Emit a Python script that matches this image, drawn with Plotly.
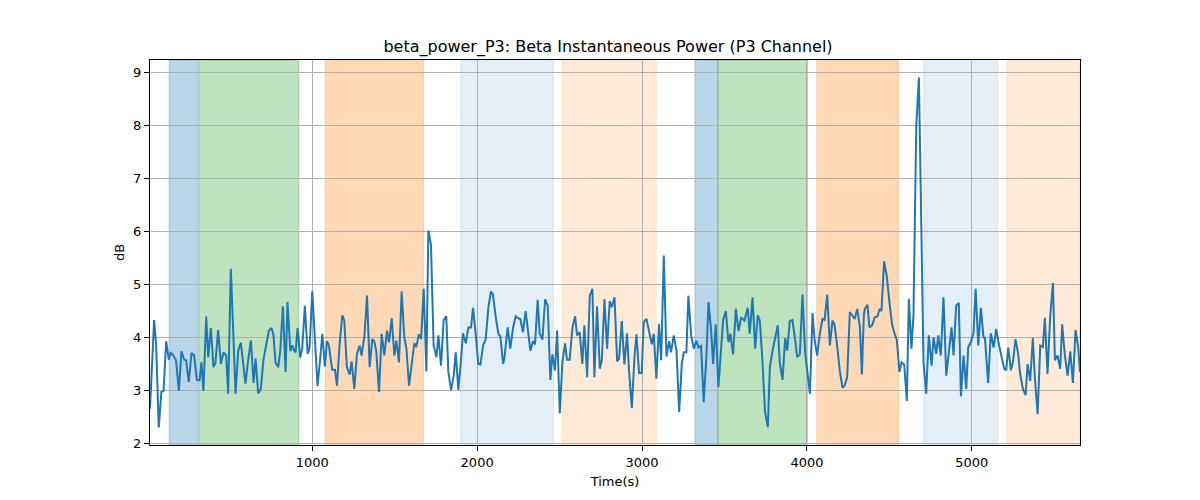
import plotly.graph_objects as go

# Time (s) and beta power (dB)
time_s = [
    16, 41, 53, 69, 85, 98, 114, 130, 142, 158, 174, 191, 207, 223, 235, 251, 268, 284, 300, 316,
    328, 340, 357, 369, 385, 401, 413, 429, 446, 462, 478, 490, 506, 522, 535, 551, 567, 579, 595, 611,
    628, 644, 656, 672, 688, 704, 721, 737, 753, 765, 777, 794, 806, 822, 838, 850, 867, 879, 891, 899,
    911, 927, 939, 955, 972, 984, 1000, 1016, 1032, 1049, 1061, 1077, 1089, 1101, 1121, 1138, 1150, 1166, 1182, 1194,
    1210, 1227, 1239, 1255, 1271, 1287, 1299, 1316, 1332, 1348, 1364, 1376, 1388, 1405, 1421, 1437, 1453, 1465, 1482, 1498,
    1510, 1526, 1542, 1558, 1571, 1587, 1603, 1619, 1631, 1647, 1660, 1676, 1692, 1704, 1720, 1736, 1753, 1765, 1781, 1797,
    1813, 1825, 1842, 1858, 1870, 1886, 1902, 1914, 1931, 1947, 1963, 1975, 1991, 2007, 2020, 2036, 2052, 2068, 2084, 2096,
    2113, 2129, 2141, 2157, 2165, 2185, 2201, 2218, 2234, 2250, 2262, 2278, 2294, 2311, 2323, 2339, 2351, 2367, 2379, 2396,
    2412, 2428, 2444, 2456, 2472, 2485, 2501, 2517, 2533, 2545, 2561, 2578, 2594, 2606, 2622, 2638, 2650, 2667, 2683, 2699,
    2711, 2727, 2744, 2756, 2772, 2788, 2804, 2816, 2833, 2849, 2861, 2877, 2893, 2909, 2921, 2938, 2954, 2966, 2982, 2998,
    3010, 3027, 3043, 3059, 3071, 3087, 3103, 3116, 3132, 3148, 3164, 3176, 3192, 3209, 3225, 3241, 3253, 3269, 3281, 3298,
    3314, 3330, 3342, 3358, 3374, 3391, 3403, 3419, 3431, 3447, 3463, 3480, 3492, 3508, 3524, 3536, 3552, 3569, 3585, 3601,
    3621, 3641, 3653, 3670, 3686, 3702, 3714, 3730, 3746, 3763, 3775, 3791, 3807, 3823, 3835, 3852, 3868, 3880, 3896, 3912,
    3929, 3941, 3957, 3973, 3989, 4001, 4018, 4034, 4046, 4062, 4078, 4094, 4107, 4123, 4139, 4155, 4167, 4183, 4200, 4216,
    4228, 4244, 4260, 4272, 4289, 4305, 4321, 4333, 4345, 4351, 4367, 4379, 4395, 4412, 4428, 4440, 4452, 4468, 4485, 4501,
    4517, 4533, 4545, 4561, 4574, 4590, 4606, 4618, 4634, 4646, 4663, 4679, 4691, 4707, 4723, 4739, 4756, 4768, 4784, 4796,
    4812, 4828, 4845, 4861, 4877, 4889, 4905, 4921, 4934, 4950, 4966, 4978, 4994, 5010, 5023, 5039, 5055, 5071, 5079, 5099,
    5115, 5132, 5148, 5164, 5180, 5196, 5208, 5221, 5237, 5249, 5265, 5281, 5293, 5310, 5326, 5338, 5354, 5370, 5382, 5399,
    5415, 5431, 5443, 5459, 5475, 5492, 5504, 5520, 5536, 5548, 5564, 5581, 5597, 5613, 5629, 5645, 5656,
]
power_db = [
    2.65, 4.33, 3.88, 2.30, 2.97, 2.99, 3.93, 3.58, 3.72, 3.66, 3.57, 2.99, 3.74, 3.58, 3.57, 3.16, 3.71, 3.66, 3.20, 3.19,
    3.53, 2.99, 4.40, 3.63, 4.18, 3.44, 3.52, 4.14, 3.50, 3.72, 3.66, 2.94, 5.30, 4.01, 2.94, 3.75, 3.90, 3.57, 3.13, 3.57,
    3.94, 3.14, 3.60, 2.95, 3.03, 3.58, 3.88, 4.13, 4.18, 4.04, 3.53, 3.44, 3.75, 4.59, 3.35, 4.67, 3.74, 3.85, 3.75, 3.72,
    4.18, 3.62, 3.79, 4.60, 3.69, 3.82, 4.87, 4.01, 3.08, 3.63, 4.07, 3.45, 3.93, 3.85, 3.39, 3.39, 3.09, 3.88, 4.42, 4.32,
    3.44, 3.30, 3.55, 3.03, 3.69, 3.85, 3.66, 4.01, 4.79, 3.44, 3.97, 3.93, 3.75, 2.97, 4.07, 3.66, 4.13, 3.91, 4.36, 3.66,
    3.94, 3.53, 4.87, 4.01, 3.79, 3.09, 3.50, 3.89, 3.82, 4.06, 3.97, 4.92, 3.36, 6.02, 5.75, 3.85, 3.63, 4.04, 3.47, 4.33,
    4.40, 3.36, 3.00, 3.28, 3.72, 3.01, 3.57, 4.08, 3.89, 4.19, 4.19, 4.56, 4.07, 3.50, 3.49, 3.85, 3.97, 4.57, 4.87, 4.81,
    4.38, 4.07, 4.02, 3.50, 3.60, 4.19, 3.79, 4.19, 4.40, 4.36, 4.35, 4.10, 4.50, 4.04, 3.75, 3.93, 3.87, 4.71, 4.08, 3.96,
    4.72, 4.60, 3.20, 3.68, 3.38, 4.13, 2.57, 3.53, 3.89, 3.58, 3.58, 4.19, 4.40, 4.04, 4.10, 3.50, 4.23, 3.25, 4.79, 4.92,
    3.25, 4.59, 3.41, 3.57, 4.72, 3.79, 4.69, 4.57, 4.76, 3.55, 3.60, 4.31, 3.49, 4.08, 3.38, 2.67, 3.63, 4.06, 3.33, 3.33,
    4.29, 4.35, 4.13, 3.87, 4.07, 3.22, 4.26, 3.57, 5.55, 3.64, 3.93, 3.72, 4.04, 3.75, 2.59, 3.50, 3.72, 3.72, 4.79, 4.04,
    3.79, 3.94, 3.81, 3.84, 2.78, 3.69, 4.67, 4.13, 3.50, 4.25, 3.06, 3.75, 4.33, 4.50, 3.91, 4.07, 3.68, 4.54, 4.12, 4.38,
    4.32, 4.56, 4.07, 4.76, 3.79, 4.42, 4.32, 3.57, 2.59, 2.31, 3.44, 3.74, 3.97, 4.23, 3.53, 3.20, 3.99, 3.75, 4.31, 4.33,
    3.94, 3.63, 3.68, 4.81, 3.72, 3.44, 2.94, 4.46, 3.97, 3.66, 4.07, 4.35, 4.33, 4.81, 3.85, 4.32, 4.25, 3.85, 3.35, 3.05,
    3.09, 3.25, 4.48, 4.43, 4.35, 4.54, 4.19, 3.30, 4.42, 4.54, 4.62, 4.19, 4.23, 4.38, 4.40, 4.54, 4.50, 5.44, 5.14, 4.64,
    4.23, 4.06, 3.96, 3.35, 3.53, 3.49, 2.80, 4.73, 3.79, 4.42, 8.00, 8.91, 6.21, 3.53, 2.94, 4.04, 3.47, 4.00, 3.69, 4.04,
    3.66, 4.76, 3.28, 3.69, 4.19, 3.66, 4.60, 4.65, 2.89, 3.66, 3.03, 3.82, 3.91, 4.08, 4.92, 3.85, 4.56, 3.99, 4.01, 3.14,
    4.08, 3.81, 4.16, 3.87, 3.62, 3.41, 3.38, 3.81, 3.38, 3.53, 3.97, 3.69, 3.31, 3.03, 2.91, 3.50, 3.18, 3.99, 3.25, 2.55,
    3.85, 3.82, 4.37, 3.31, 4.38, 5.03, 3.57, 3.66, 3.41, 4.25, 3.66, 3.28, 3.74, 3.14, 4.14, 3.82, 3.35,
]

# Shaded epochs: start, end, colour
span_start = [132, 314, 1079, 1901, 2514, 3321, 3460, 4060, 4709, 5213]
span_end = [308, 919, 1674, 2463, 3086, 3460, 4003, 4555, 5156, 5656]
span_color = [
    "rgba(31,119,180,0.3)", "rgba(44,160,44,0.3)", "rgba(255,127,14,0.3)",
    "rgba(31,119,180,0.12)", "rgba(255,127,14,0.16)",
    "rgba(31,119,180,0.3)", "rgba(44,160,44,0.3)", "rgba(255,127,14,0.3)",
    "rgba(31,119,180,0.12)", "rgba(255,127,14,0.16)",
]

fig = go.Figure()

for x0, x1, c in zip(span_start, span_end, span_color):
    fig.add_vrect(x0=x0, x1=x1, fillcolor=c, line=dict(color=c, width=1), layer="below")

fig.add_trace(go.Scatter(
    x=time_s, y=power_db,
    mode="lines",
    line=dict(color="#1f77b4", width=2),
    showlegend=False,
))

axis_style = dict(
    showgrid=True, gridcolor="#b0b0b0", gridwidth=1,
    showline=True, linecolor="black", linewidth=1, mirror=True,
    ticks="outside", ticklen=5, tickcolor="black",
    tickfont=dict(size=13, color="black"),
    zeroline=False,
)

# the page body adds an 8px offset, margins account for it
fig.update_layout(
    title=dict(text="beta_power_P3: Beta Instantaneous Power (P3 Channel)",
               x=0.5, xanchor="center", y=0.924, yanchor="middle",
               font=dict(size=16, color="black")),
    width=1200, height=500,
    margin=dict(l=142, r=128, t=52, b=63),
    paper_bgcolor="white", plot_bgcolor="white",
    font=dict(family="DejaVu Sans", color="black"),
    xaxis=dict(axis_style, range=[min(time_s), max(time_s)], tickvals=[1000, 2000, 3000, 4000, 5000],
               title=dict(text="Time(s)", font=dict(size=13), standoff=8)),
    yaxis=dict(axis_style, range=[1.97, 9.24], tickvals=[2, 3, 4, 5, 6, 7, 8, 9],
               title=dict(text="dB", font=dict(size=13), standoff=5)),
)

fig.write_html("out.html")
